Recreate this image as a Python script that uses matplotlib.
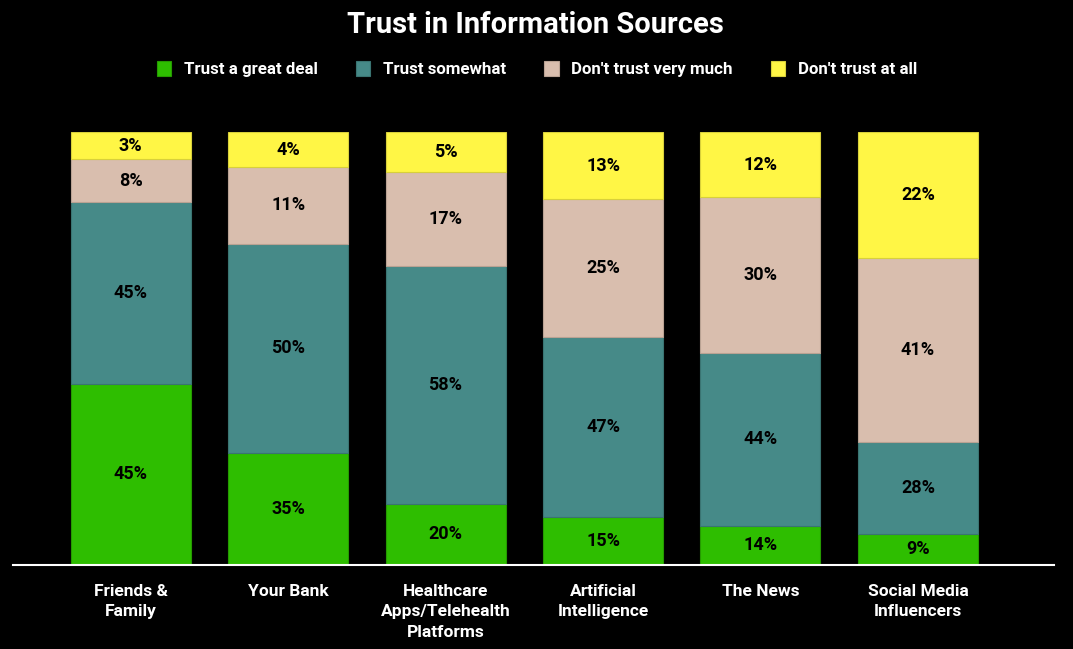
import matplotlib
matplotlib.use("Agg")
import matplotlib.pyplot as plt
from matplotlib.patches import Patch

# categories and printed percentages
sources = ["Friends &\nFamily", "Your Bank", "Healthcare\nApps/Telehealth\nPlatforms",
           "Artificial\nIntelligence", "The News", "Social Media\nInfluencers"]
series_names = ["Trust a great deal", "Trust somewhat", "Don't trust very much", "Don't trust at all"]

great_pct = [45, 35, 20, 15, 14, 9]
somewhat_pct = [45, 50, 58, 47, 44, 28]
not_much_pct = [8, 11, 17, 25, 30, 41]
not_at_all_pct = [3, 4, 5, 13, 12, 22]

# segment heights as they are drawn in the chart (share of each bar)
great_h = [41.8, 25.7, 14.0, 10.9, 9.0, 7.0]
somewhat_h = [41.9, 48.5, 55.1, 41.6, 39.9, 21.4]
not_much_h = [10.0, 17.7, 21.7, 31.9, 36.0, 42.5]
not_at_all_h = [6.3, 8.1, 9.2, 15.6, 15.0, 29.1]

colors = ["#2ebe00", "#468a88", "#d9beae", "#fff645"]
edges = ["#259a00", "#3a7472", "#b9a293", "#d8d03a"]

body_font = ["Roboto", "DejaVu Sans"]
narrow_font = ["Liberation Sans Narrow", "Roboto", "DejaVu Sans"]

fig = plt.figure(figsize=(10.73, 6.49), dpi=100, facecolor="black")
ax = fig.add_axes([13 / 1073, 84.5 / 649, 1041 / 1073, 432.5 / 649])
ax.set_facecolor("black")

x = list(range(len(sources)))
heights = [great_h, somewhat_h, not_much_h, not_at_all_h]
labels = [great_pct, somewhat_pct, not_much_pct, not_at_all_pct]
bottom = [0.0] * len(sources)
for h, lbl, c, ec in zip(heights, labels, colors, edges):
    bars = ax.bar(x, h, bottom=bottom, width=0.762, color=c, edgecolor=ec, linewidth=0.8, zorder=2)
    ax.bar_label(bars, labels=[f"{v}%" for v in lbl], label_type="center",
                 color="black", fontsize=13, fontweight="bold", family=body_font)
    bottom = [b + v for b, v in zip(bottom, h)]

ax.set_xlim(-0.747, 5.864)
ax.set_ylim(0, 100)
ax.set_xticks(x)
ax.set_xticklabels(sources, color="white", fontsize=12.5, fontweight="bold",
                   family=body_font, linespacing=1.45)
ax.tick_params(axis="x", length=0, pad=14)
ax.set_yticks([])
for side in ["top", "left", "right"]:
    ax.spines[side].set_visible(False)
ax.spines["bottom"].set_color("white")
ax.spines["bottom"].set_linewidth(1.5)
ax.spines["bottom"].set_zorder(3)

fig.text(0.4986, 1 - 25 / 649, "Trust in Information Sources", color="white",
         fontsize=21, fontweight="bold", family=narrow_font, ha="center", va="center")

handles = [Patch(facecolor=c, edgecolor=ec, linewidth=0.8) for c, ec in zip(colors, edges)]
leg = fig.legend(handles, series_names, loc="center", bbox_to_anchor=(537 / 1073, 1 - 69 / 649),
                 ncol=4, frameon=False, handlelength=0.85, handleheight=1.0,
                 handletextpad=0.75, columnspacing=2.25,
                 prop={"family": narrow_font, "weight": "bold", "size": 12.2})
for t in leg.get_texts():
    t.set_color("white")

fig.savefig("out.png", dpi=100, facecolor="black")
